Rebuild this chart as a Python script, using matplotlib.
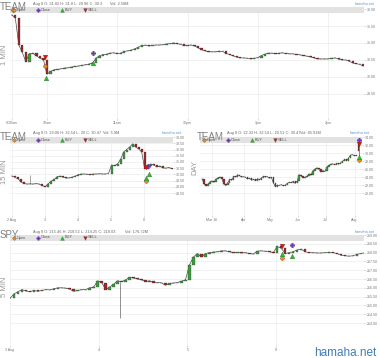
import numpy as np
import matplotlib
matplotlib.use("Agg")
import matplotlib.pyplot as plt
from matplotlib.patches import Rectangle

plt.rcParams["font.family"] = ["Liberation Sans", "DejaVu Sans"]

# --- TEAM 1 MIN (close every 3 minutes after 9:30) ---
t1_close = [31.82, 31.75, 30.94, 30.72, 30.45, 30.69, 30.70, 30.62, 30.55, 30.51,
            30.08, 30.16, 30.21, 30.22, 30.24, 30.26, 30.27, 30.29, 30.31, 30.32,
            30.34, 30.36, 30.38, 30.41, 30.55, 30.63, 30.66, 30.67, 30.70, 30.71,
            30.69, 30.70, 30.75, 30.77, 30.79, 30.83, 30.87, 30.93, 30.93, 30.91,
            30.93, 30.94, 30.94, 30.95, 30.97, 30.98, 31.00, 30.98, 30.96, 30.92,
            30.93, 30.94, 30.91, 30.86, 30.80, 30.77, 30.74, 30.74, 30.74, 30.76,
            30.75, 30.69, 30.66, 30.62, 30.58, 30.56, 30.56, 30.55, 30.53, 30.55,
            30.57, 30.63, 30.67, 30.70, 30.70, 30.68, 30.70, 30.71, 30.69, 30.68,
            30.68, 30.66, 30.65, 30.63, 30.61, 30.59, 30.56, 30.53, 30.53, 30.53,
            30.53, 30.55, 30.56, 30.52, 30.50, 30.50, 30.46, 30.41, 30.39, 30.37,
            30.32]
t1_ticks = [0, 30, 90, 150, 210, 270]
t1_ticklabels = ["9:30am", "10am", "11am", "12pm", "1pm", "2pm"]
t1_open_mk = ([1, 28.3], [31.97, 30.32])
t1_close_mk = ([69], [30.71])
t1_buy_mk = ([29.1, 69], [29.97, 30.41])
t1_sell_mk = ([28.3], [30.59])

# --- TEAM 15 MIN (trading days from 2 Aug) ---
t15_close = [29.86, 29.75, 29.65, 29.38, 29.26, 29.22, 29.24, 29.22, 29.26, 29.22,
             29.10, 29.00, 29.25, 29.45, 29.60, 29.82, 29.86, 29.76, 29.70, 29.72,
             29.78, 29.86, 29.98, 30.03, 30.03, 30.00, 29.98, 30.03, 30.03, 30.05,
             30.03, 30.03, 30.07, 30.75, 30.70, 30.85, 31.20, 31.80, 32.00, 32.20,
             32.45, 32.20, 32.05, 31.80, 30.45, 30.67, 30.83, 30.75, 30.60, 30.67,
             30.52, 30.50, 30.55, 30.47]
t15_ticklabels = ["2 Aug", "3", "4", "5", "8"]
t15_spike = ([0.55], [29.26], [29.95])
t15_open_mk = ([4.06], [29.46])
t15_close_mk = ([4.12], [30.67])
t15_buy_mk = ([4.06, 4.15], [29.70, 30.03])
t15_sell_mk = ([4.06], [30.59])

# --- TEAM DAY (trading days from 1 Mar) ---
tday_close = [23.5, 22.3, 21.8, 22.2, 22.8, 23.0, 22.7, 23.4, 23.8, 24.0,
              23.6, 22.2, 21.9, 22.6, 23.4, 23.2, 24.2, 24.0, 24.6, 24.3,
              24.0, 24.1, 23.9, 23.5, 23.7, 23.2, 23.4, 23.1, 23.6, 23.3,
              23.8, 24.2, 24.0, 24.1, 23.7, 23.9, 22.5, 21.6, 22.0, 21.9,
              22.1, 21.8, 22.0, 22.4, 22.7, 22.6, 22.9, 22.4, 23.0, 24.6,
              24.3, 23.8, 23.9, 24.2, 24.8, 24.5, 25.6, 26.0, 26.3, 25.9,
              25.3, 25.6, 25.4, 26.5, 26.9, 27.2, 27.3, 27.1, 27.4, 27.2,
              27.6, 28.0, 28.4, 28.1, 28.8, 29.5, 29.6, 29.3, 29.4]
tday_last = dict(day=111, o=32.45, h=32.54, l=29.3, c=30.47)
tday_ticks = [0, 24, 44, 65, 86, 108]
tday_ticklabels = ["Mar 16", "Apr", "May", "Jun", "Jul", "Aug"]
tday_open_mk = ([111], [28.25])
tday_close_mk = ([111], [33.3])
tday_buy_mk = ([111], [29.0])
tday_sell_mk = ([111], [32.25])

# --- SPY 5 MIN (trading days from 3 Aug) ---
spy_close = [215.40, 215.65, 215.78, 215.90, 215.82, 215.78, 215.85, 215.80, 215.85, 215.90,
             215.88, 215.95, 216.00, 216.00, 215.98, 215.92, 215.80, 215.85, 215.90, 215.90,
             216.00, 216.05, 216.40, 216.30, 215.90, 216.05, 216.20, 216.40, 216.35, 216.45,
             216.60, 216.55, 216.50, 216.45, 216.35, 216.40, 216.30, 216.30, 216.28, 216.15,
             216.25, 216.27, 216.30, 216.38, 216.45, 217.30, 217.75, 217.95, 217.75, 217.95,
             218.00, 218.03, 218.05, 218.10, 218.10, 218.05, 218.00, 218.02, 217.98, 218.00,
             217.95, 217.92, 218.08, 218.10, 218.08, 218.05, 218.00, 218.35, 218.25, 217.95,
             218.00, 218.05, 218.15, 218.20, 218.05, 218.00, 218.00, 217.98, 217.98, 218.00,
             218.02, 218.00, 217.95, 217.85, 217.82, 217.80, 217.82, 217.90, 217.95, 218.00]
spy_ticklabels = ["3 Aug", "4", "5", "8"]
spy_spike = ([1.236], [214.28], [216.33])
spy_open_mk = ([3.07], [217.7])
spy_close_mk = ([3.18], [218.43])
spy_buy_mk = ([3.07, 3.18], [217.92, 217.8])
spy_sell_mk = ([3.07], [218.4])

W, H = 380, 358
fig = plt.figure(figsize=(W / 100, H / 100), dpi=100)
fig.patch.set_facecolor("white")


def box(l, t, r, b):
    return [l / W, 1 - b / H, (r - l) / W, (b - t) / H]


def ftext(x, y, s, **kw):
    fig.text(x / W, 1 - y / H, s, **kw)


MK = {
    "open": dict(marker="D", color="#f28a1a", ms=2.6),
    "close": dict(marker="P", color="#7a2bd6", ms=3.4),
    "buy": dict(marker="^", color="#1fc41f", ms=3.4),
    "sell": dict(marker="v", color="#e01212", ms=3.4),
}


def candles(ax, x, close, width):
    close = np.asarray(close)
    opn = np.r_[close[0], close[:-1]]
    cols = np.where(close >= opn, "#3f9b3f", "#a02828")
    ax.plot(x, close, color="#3a3a3a", lw=0.45, zorder=2)
    ax.bar(x, close - opn, bottom=opn, width=width, color=cols,
           edgecolor="#2a2a2a", linewidth=0.2, zorder=3)


def marks(ax, o, c, b, s):
    for key, pts in (("open", o), ("close", c), ("buy", b), ("sell", s)):
        st = MK[key]
        ax.plot(pts[0], pts[1], ls="none", marker=st["marker"], color=st["color"],
                ms=st["ms"], mec="#444", mew=0.2, zorder=5)


def style(ax, yticks, xticks, xlabels):
    for sp in ax.spines.values():
        sp.set_visible(False)
    ax.yaxis.tick_right()
    ax.set_yticks(yticks)
    ax.set_yticklabels(["%.2f" % v for v in yticks])
    ax.set_xticks(xticks)
    ax.set_xticklabels(xlabels)
    ax.tick_params(axis="both", length=1.2, width=0.4, color="#bbbbbb",
                   labelsize=2.6, labelcolor="#777777", pad=0.8)
    ax.grid(True, color="#ececec", lw=0.5)
    ax.set_axisbelow(True)
    # legend band
    pos = ax.get_position()
    axw, axh = pos.width * W, pos.height * H
    ax.add_patch(Rectangle((0, 1 - 6 / axh), 1, 6 / axh, transform=ax.transAxes,
                           color="#e2e2e2", zorder=1, lw=0))
    yl = 1 - 3 / axh
    for off, key, label in ((3.5, "open", "Open"), (28, "close", "Close"),
                            (52, "buy", "BUY"), (75, "sell", "SELL")):
        st = MK[key]
        ax.plot([off / axw], [yl], transform=ax.transAxes, marker=st["marker"],
                color=st["color"], ms=st["ms"] * 0.8, mec="#444", mew=0.2,
                clip_on=False, zorder=6)
        ax.text((off + 3) / axw, yl, label, transform=ax.transAxes, fontsize=2.8,
                color="#555555", va="center", ha="left", zorder=6)


# panel 1
ax1 = fig.add_axes(box(10, 7, 364, 118))
x1 = np.arange(len(t1_close)) * 3
candles(ax1, x1, t1_close, 2.0)
marks(ax1, t1_open_mk, t1_close_mk, t1_buy_mk, t1_sell_mk)
ax1.set_xlim(-1.5, 300.6)
ax1.set_ylim(28.79, 32.06)
style(ax1, np.arange(29.5, 32.01, 0.5), t1_ticks, t1_ticklabels)

# panel 2
ax2 = fig.add_axes(box(10, 136.5, 173, 215))
x2 = np.linspace(0, 4.855, len(t15_close))
candles(ax2, x2, t15_close, 0.06)
ax2.vlines(t15_spike[0], t15_spike[1], t15_spike[2], color="#666", lw=0.4, zorder=2)
marks(ax2, t15_open_mk, t15_close_mk, t15_buy_mk, t15_sell_mk)
ax2.set_xlim(-0.06, 4.89)
ax2.set_ylim(26.73, 33.05)
style(ax2, np.arange(28.5, 33.01, 0.5), range(len(t15_ticklabels)), t15_ticklabels)

# panel 3
ax3 = fig.add_axes(box(200, 136.5, 362, 215))
x3 = -7.5 + 1.5 * np.arange(len(tday_close))
candles(ax3, x3, tday_close, 1.0)
lb = tday_last
ax3.vlines(lb["day"], lb["l"], lb["h"], color="#333", lw=0.4, zorder=3)
ax3.bar(lb["day"], lb["c"] - lb["o"], bottom=lb["o"], width=1.4,
        color="#a02828" if lb["c"] < lb["o"] else "#3f9b3f",
        edgecolor="#2a2a2a", linewidth=0.2, zorder=4)
marks(ax3, tday_open_mk, tday_close_mk, tday_buy_mk, tday_sell_mk)
ax3.set_xlim(-9.1, 113.6)
ax3.set_ylim(14.5, 34.15)
style(ax3, np.arange(20, 34.01, 2), tday_ticks, tday_ticklabels)

# panel 4
ax4 = fig.add_axes(box(10, 234.5, 364, 345))
x4 = np.linspace(0, 4.0, len(spy_close))
candles(ax4, x4, spy_close, 0.03)
ax4.vlines(spy_spike[0], spy_spike[1], spy_spike[2], color="#666", lw=0.5, zorder=2)
marks(ax4, spy_open_mk, spy_close_mk, spy_buy_mk, spy_sell_mk)
ax4.set_xlim(0, 3.99)
ax4.set_ylim(212.75, 219.03)
style(ax4, np.arange(214, 219.01, 0.5), range(len(spy_ticklabels)), spy_ticklabels)

# headers
tcol = "#808080"
ftext(0, 9.5, "TEAM", fontsize=7, color=tcol, va="baseline")
ftext(0, 139.5, "TEAM", fontsize=7, color=tcol, va="baseline")
ftext(197, 139.5, "TEAM", fontsize=7, color=tcol, va="baseline")
ftext(0, 238, "SPY", fontsize=7, color=tcol, va="baseline")

icol = "#666666"
ftext(33, 5, "Aug 8 O: 31.82 H: 31.8 L: 29.96 C: 30.3", fontsize=2.8, color=icol, va="baseline")
ftext(110, 5, "Vol: 2.58M", fontsize=2.8, color=icol, va="baseline")
ftext(33, 134, "Aug 8 O: 29.06 H: 32.54 L: 29 C: 30.47", fontsize=2.8, color=icol, va="baseline")
ftext(103, 134, "Vol: 5.9M", fontsize=2.8, color=icol, va="baseline")
ftext(227, 134, "Aug 8 O: 22.33 H: 32.54 L: 20.51 C: 30.47", fontsize=2.8, color=icol, va="baseline")
ftext(300, 134, "Vol: 65.91M", fontsize=2.8, color=icol, va="baseline")
ftext(33, 233, "Aug 8 O: 215.46 H: 218.52 L: 214.25 C: 218.03", fontsize=2.8, color=icol, va="baseline")
ftext(125, 233, "Vol: 176.72M", fontsize=2.8, color=icol, va="baseline")

hcol = "#5a9ad8"
for hx, hy in ((355, 5), (162, 134), (350, 134), (355, 233)):
    ftext(hx, hy, "hamaha.net", fontsize=2.8, color=hcol, va="baseline")

scol = "#9a9a9a"
ftext(5, 55, "1 MIN", fontsize=5.5, color=scol, rotation=90, ha="center", va="center")
ftext(5, 172, "15 MIN", fontsize=5.5, color=scol, rotation=90, ha="center", va="center")
ftext(195, 168, "DAY", fontsize=5.5, color=scol, rotation=90, ha="center", va="center")
ftext(5, 287, "5 MIN", fontsize=5.5, color=scol, rotation=90, ha="center", va="center")

ftext(376, 356, "hamaha.net", fontsize=8.5, color="#3f7cba", ha="right", va="baseline")

fig.savefig("out.png", dpi=100)
